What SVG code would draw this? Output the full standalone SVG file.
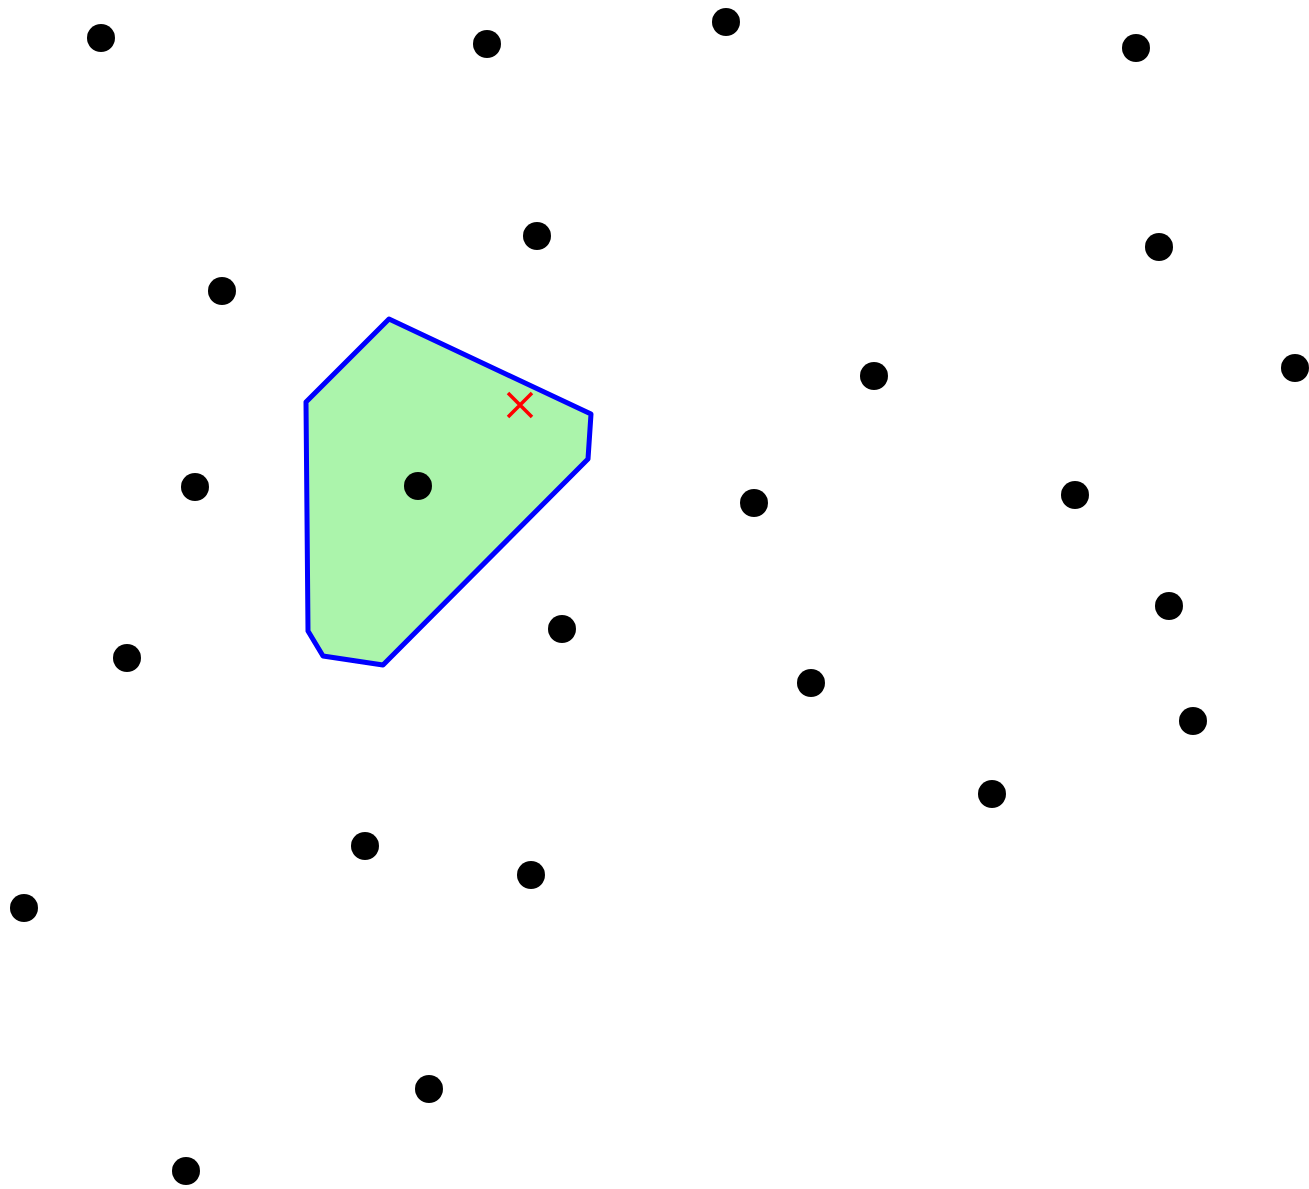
<svg xmlns="http://www.w3.org/2000/svg" width="1309" height="1189" viewBox="0 0 1309 1189">
<style>
.pt{fill:#000}
.cell{fill:#abf4ab;stroke:#0000ff;stroke-width:5;stroke-linejoin:round}
.x{stroke:#ff0000;stroke-width:3.5;fill:none}
</style>
<rect width="1309" height="1189" fill="#fff"/>
<g id="cell">
<polygon class="cell" points="389,319 591,414 588,459 383,665 323,656 308,631 306,402"/>
</g>
<g id="points">
<circle class="pt" cx="101" cy="38" r="14"/>
<circle class="pt" cx="487" cy="44" r="14"/>
<circle class="pt" cx="726" cy="22" r="14"/>
<circle class="pt" cx="1136" cy="48" r="14"/>
<circle class="pt" cx="537" cy="236" r="14"/>
<circle class="pt" cx="1159" cy="247" r="14"/>
<circle class="pt" cx="222" cy="291" r="14"/>
<circle class="pt" cx="874" cy="376" r="14"/>
<circle class="pt" cx="1295" cy="368" r="14"/>
<circle class="pt" cx="195" cy="487" r="14"/>
<circle class="pt" cx="418" cy="486" r="14"/>
<circle class="pt" cx="754" cy="503" r="14"/>
<circle class="pt" cx="1075" cy="495" r="14"/>
<circle class="pt" cx="1169" cy="606" r="14"/>
<circle class="pt" cx="562" cy="629" r="14"/>
<circle class="pt" cx="127" cy="658" r="14"/>
<circle class="pt" cx="811" cy="683" r="14"/>
<circle class="pt" cx="1193" cy="721" r="14"/>
<circle class="pt" cx="992" cy="794" r="14"/>
<circle class="pt" cx="365" cy="846" r="14"/>
<circle class="pt" cx="531" cy="875" r="14"/>
<circle class="pt" cx="24" cy="908" r="14"/>
<circle class="pt" cx="429" cy="1089" r="14"/>
<circle class="pt" cx="186" cy="1171" r="14"/>
</g>
<g id="query">
<path class="x" d="M508,393 L532,417 M532,393 L508,417"/>
</g>
</svg>
